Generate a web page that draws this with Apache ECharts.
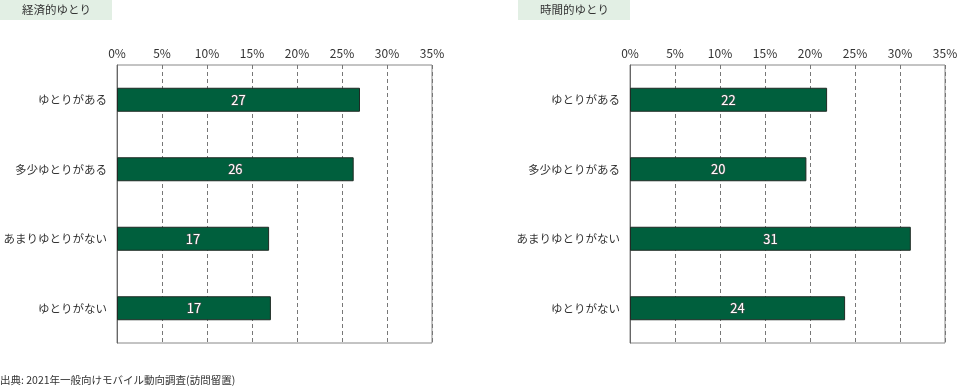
<!DOCTYPE html>
<html><head><meta charset="utf-8">
<script src="https://cdn.jsdelivr.net/npm/echarts@6/dist/echarts.min.js"></script>
<style>html,body{margin:0;padding:0;background:#fff}#c{width:960px;height:389px}</style>
</head><body><div id="c"></div>
<script>
const categories = ['ゆとりがある','多少ゆとりがある','あまりゆとりがない','ゆとりがない'];
const economicValues = [27.0, 26.3, 16.9, 17.1];
const timeValues = [21.9, 19.6, 31.2, 23.9];
const panelTitles = ['経済的ゆとり','時間的ゆとり'];
const sourceText = '出典: 2021年一般向けモバイル動向調査(訪問留置)';
const axisMin = 0, axisMax = 35, axisStep = 5;

const FONT = '"Noto Sans CJK JP", "Noto Sans", sans-serif';
const chart = echarts.init(document.getElementById('c'), null, {renderer:'canvas'});
const barColor = '#005f3d';

function xAx(gi){
  return {
    gridIndex: gi, type:'value', position:'top', min:axisMin, max:axisMax, interval:axisStep,
    axisLine:{show:false}, axisTick:{show:false},
    axisLabel:{formatter:'{value}%', color:'#333', fontSize:12, fontFamily:FONT, margin:6},
    splitLine:{show:true, lineStyle:{color:'#777', type:[4,3], width:1}}
  };
}
function yAx(gi){
  return {
    gridIndex: gi, type:'category', data:categories, inverse:true,
    axisLine:{show:true, lineStyle:{color:'#666'}}, axisTick:{show:false},
    axisLabel:{color:'#333', fontSize:11.5, fontFamily:FONT, margin:10}
  };
}
function ser(gi, vals){
  return {
    type:'bar', xAxisIndex:gi, yAxisIndex:gi, data:vals, barWidth:24,
    itemStyle:{color:barColor, borderColor:'#1f2a24', borderWidth:1},
    label:{show:true, position:'inside', formatter:p=>Math.round(p.value),
      color:'#fff', fontSize:13, fontFamily:FONT, textBorderColor:'#555', textBorderWidth:1.2}
  };
}
function titleBox(x, w, text){
  return {type:'group', left:x, top:0, children:[
    {type:'rect', shape:{x:0,y:0,width:w,height:20}, style:{fill:'#e2efe4'}},
    {type:'text', x:22, y:10, style:{text:text, fill:'#333', font:'11.5px '+FONT, textVerticalAlign:'middle'}}
  ]};
}
chart.setOption({
  animation:false,
  grid:[
    {left:117, top:65, width:315, height:278, show:true, borderColor:'#888', borderWidth:1, containLabel:false, outerBoundsMode:'none'},
    {left:630, top:65, width:315, height:278, show:true, borderColor:'#888', borderWidth:1, containLabel:false, outerBoundsMode:'none'}
  ],
  xAxis:[xAx(0), xAx(1)],
  yAxis:[yAx(0), yAx(1)],
  series:[ser(0, economicValues), ser(1, timeValues)],
  graphic:[
    titleBox(0, 112, panelTitles[0]),
    titleBox(518, 112, panelTitles[1]),
    {type:'text', left:0, top:375, style:{text:sourceText, fill:'#333', font:'10.5px '+FONT}}
  ]
});
</script></body></html>
